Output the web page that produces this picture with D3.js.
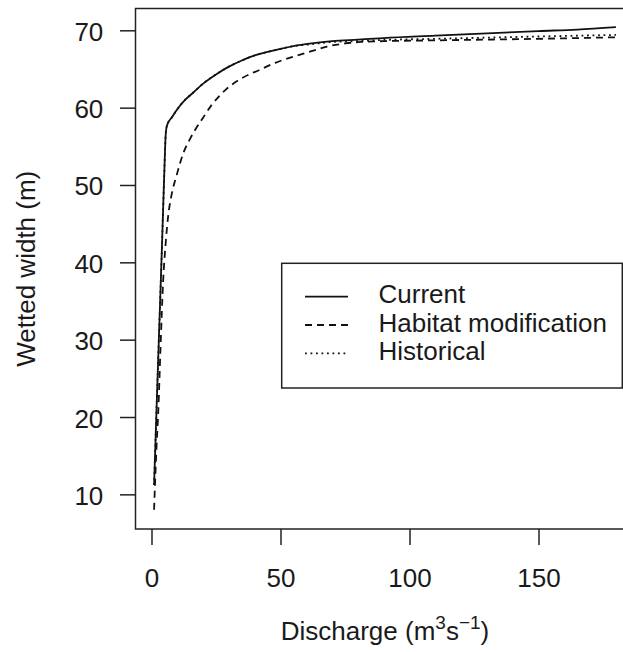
<!DOCTYPE html>
<html>
<head>
<meta charset="utf-8">
<script src="https://cdn.jsdelivr.net/npm/d3@7"></script>
<style>
  html, body { margin: 0; padding: 0; background: #fff; }
  svg { display: block; font-family: "Liberation Sans", Arial, sans-serif; }
  text { fill: #1a1a1a; }
</style>
</head>
<body>
<svg id="chart" width="623" height="652"></svg>
<script>
// ---- data ----
const currentX = [1, 2, 3, 4, 5, 5.5, 6, 8, 10, 13, 16, 20, 25, 30, 35, 40, 45, 50, 55, 62, 70, 80, 90, 110, 130, 150, 165, 180];
const currentY = [11.2, 21.5, 31.5, 41.5, 52, 56.5, 57.7, 58.8, 59.8, 61.0, 61.9, 63.1, 64.3, 65.3, 66.1, 66.75, 67.2, 67.6, 67.95, 68.3, 68.6, 68.8, 69.0, 69.3, 69.6, 69.9, 70.1, 70.4];

const habitatX = [1, 1.5, 2, 2.6, 3.5, 4.5, 5.5, 6.4, 7.7, 9.7, 12.2, 15, 17.4, 20, 23, 26, 29, 35, 42, 48, 55, 62, 68, 75, 81, 90, 110, 130, 150, 180];
const habitatY = [8.0, 12.5, 16.5, 20.5, 29, 37.5, 42.5, 45.8, 48.6, 51.2, 54.0, 56.0, 57.4, 58.7, 60.2, 61.4, 62.4, 63.8, 64.9, 65.8, 66.6, 67.3, 67.9, 68.3, 68.5, 68.6, 68.7, 68.8, 68.9, 69.1];

const historicalX = [1, 2, 3, 4, 5, 5.5, 6, 8, 10, 13, 16, 20, 25, 30, 35, 40, 45, 50, 55, 62, 70, 80, 90, 110, 130, 150, 180];
const historicalY = [11.2, 21.5, 31.5, 41.5, 52, 56.5, 57.7, 58.8, 59.8, 61.0, 61.9, 63.1, 64.3, 65.3, 66.1, 66.75, 67.2, 67.6, 67.95, 68.2, 68.5, 68.6, 68.75, 68.9, 69.05, 69.2, 69.4];

const xTicks = [0, 50, 100, 150];
const yTicks = [10, 20, 30, 40, 50, 60, 70];
const seriesNames = ["Current", "Habitat modification", "Historical"];
const xTitle = "Discharge";
const yTitle = "Wetted width (m)";

// ---- layout ----
const plot = { left: 135.5, right: 634.5, top: 8.5, bottom: 529 };
const svg = d3.select("#chart");

const x = d3.scaleLinear().domain([-6.2, 187.2]).range([plot.left, plot.right]);
const y = d3.scaleLinear().domain([5.52, 72.82]).range([plot.bottom, plot.top]);

const fontSize = 26;
const ink = "#1a1a1a";

svg.append("defs").append("clipPath").attr("id", "clip")
  .append("rect")
  .attr("x", plot.left).attr("y", plot.top)
  .attr("width", plot.right - plot.left).attr("height", plot.bottom - plot.top);

// box
svg.append("rect")
  .attr("x", plot.left).attr("y", plot.top)
  .attr("width", plot.right - plot.left).attr("height", plot.bottom - plot.top)
  .attr("fill", "none").attr("stroke", "#222").attr("stroke-width", 1.5);

// x axis
const xAxis = d3.axisBottom(x).tickValues(xTicks).tickSize(16).tickPadding(24).tickFormat(d3.format("d"));
const gx = svg.append("g").attr("transform", `translate(0,${plot.bottom})`).call(xAxis);
gx.select(".domain").remove();
gx.selectAll(".tick line").attr("stroke", "#222").attr("stroke-width", 1.5);
gx.selectAll(".tick text").attr("font-size", fontSize).attr("fill", ink)
  .attr("font-family", "Liberation Sans, Arial, sans-serif")
  .attr("dy", null).attr("y", 58);

// y axis
const yAxis = d3.axisLeft(y).tickValues(yTicks).tickSize(15.5).tickPadding(16).tickFormat(d3.format("d"));
const gy = svg.append("g").attr("transform", `translate(${plot.left},0)`).call(yAxis);
gy.select(".domain").remove();
gy.selectAll(".tick line").attr("stroke", "#222").attr("stroke-width", 1.5);
gy.selectAll(".tick text").attr("font-size", fontSize).attr("fill", ink)
  .attr("font-family", "Liberation Sans, Arial, sans-serif")
  .attr("dy", null).attr("y", 10).attr("x", -32.2);

// titles
const xt = svg.append("text")
  .attr("x", (plot.left + plot.right) / 2).attr("y", 640)
  .attr("text-anchor", "middle").attr("font-size", fontSize);
xt.append("tspan").text(xTitle + " (m");
xt.append("tspan").attr("font-size", 19).attr("dy", -11).text("3");
xt.append("tspan").attr("dy", 11).text("s");
xt.append("tspan").attr("font-size", 19).attr("dy", -11).text("\u22121");
xt.append("tspan").attr("dy", 11).text(")");

svg.append("text")
  .attr("transform", `translate(35,${(plot.top + plot.bottom) / 2}) rotate(-90)`)
  .attr("text-anchor", "middle").attr("font-size", fontSize)
  .text(yTitle);

// lines
const styles = [
  { dash: null },
  { dash: "7,5" },
  { dash: "1.8,3.7" }
];
const series = [
  d3.zip(currentX, currentY),
  d3.zip(habitatX, habitatY),
  d3.zip(historicalX, historicalY)
];
const line = d3.line().x(d => x(d[0])).y(d => y(d[1])).curve(d3.curveMonotoneX);
const gl = svg.append("g").attr("clip-path", "url(#clip)");
[2, 1, 0].forEach(i => {
  gl.append("path")
    .attr("d", line(series[i]))
    .attr("fill", "none").attr("stroke", "#111").attr("stroke-width", 1.8)
    .attr("stroke-linejoin", "round")
    .attr("stroke-dasharray", styles[i].dash);
});

// legend
const leg = { x0: 281.7, y0: 263.3, x1: 622.3, y1: 388 };
svg.append("rect")
  .attr("x", leg.x0).attr("y", leg.y0)
  .attr("width", leg.x1 - leg.x0).attr("height", leg.y1 - leg.y0)
  .attr("fill", "#fff").attr("stroke", "#222").attr("stroke-width", 1.5);
const rowY = [296.7, 325, 353.3];
seriesNames.forEach((name, i) => {
  svg.append("line")
    .attr("x1", 305).attr("x2", 348)
    .attr("y1", rowY[i]).attr("y2", rowY[i])
    .attr("stroke", "#111").attr("stroke-width", 1.8)
    .attr("stroke-dasharray", styles[i].dash);
  svg.append("text")
    .attr("x", 378.5).attr("y", rowY[i] + 6.5)
    .attr("font-size", fontSize)
    .text(name);
});
</script>
</body>
</html>
